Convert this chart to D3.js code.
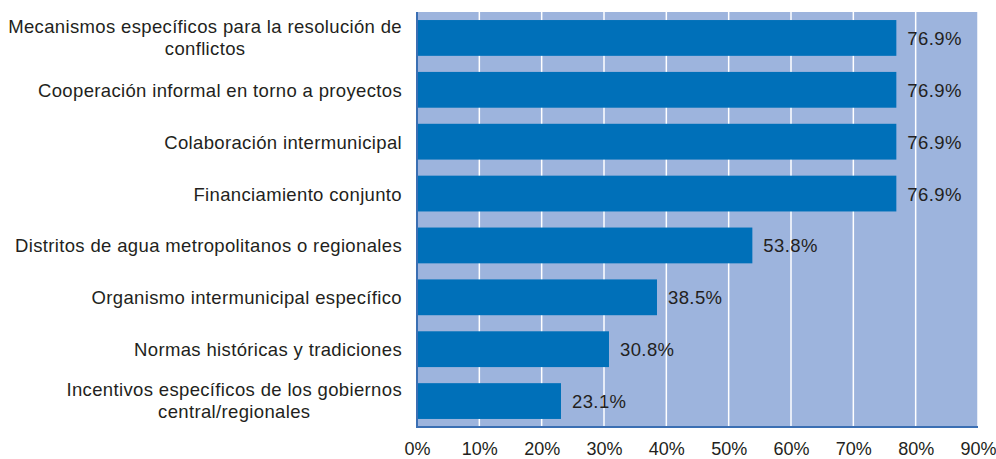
<!DOCTYPE html>
<html><head><meta charset="utf-8">
<script src="https://cdn.jsdelivr.net/npm/d3@7"></script>
<style>body{margin:0;background:#fff}svg{display:block}text{font-family:"Liberation Sans",Arial,sans-serif}</style>
</head><body><svg id="c" width="996" height="459"></svg>
<script>
const categories = [
  ["Mecanismos específicos para la resolución de","conflictos"],
  ["Cooperación informal en torno a proyectos"],
  ["Colaboración intermunicipal"],
  ["Financiamiento conjunto"],
  ["Distritos de agua metropolitanos o regionales"],
  ["Organismo intermunicipal específico"],
  ["Normas históricas y tradiciones"],
  ["Incentivos específicos de los gobiernos","central/regionales"]
];
const values = [76.9, 76.9, 76.9, 76.9, 53.8, 38.5, 30.8, 23.1];
const ticks = [0,10,20,30,40,50,60,70,80,90];

const svg = d3.select("#c");
const L = 417, R = 978, T = 12, B = 427;
const FS = 18.5;
const x = d3.scaleLinear().domain([0,90]).range([L,R]);
const y = d3.scaleBand().domain(d3.range(categories.length)).range([T,B]).paddingInner(0.31).paddingOuter(0.155);

svg.append("rect").attr("x",L).attr("y",T).attr("width",R-L).attr("height",B-T).attr("fill","#9db4dd");
svg.append("g").selectAll("line").data(ticks.slice(1)).join("line")
  .attr("x1",d=>x(d)).attr("x2",d=>x(d)).attr("y1",T).attr("y2",B)
  .attr("stroke","#fff").attr("stroke-width",1.5);

svg.append("g").selectAll("rect").data(values).join("rect")
  .attr("x",x(0)).attr("y",(d,i)=>y(i)).attr("width",d=>x(d)-x(0)).attr("height",y.bandwidth())
  .attr("fill","#0070b9");

svg.append("g").selectAll("text").data(values).join("text")
  .attr("x",d=>x(d)+11).attr("y",(d,i)=>y(i)+y.bandwidth()/2+7)
  .attr("font-size",FS).attr("letter-spacing","0.4px").attr("fill","#231f20").text(d=>d.toFixed(1)+"%");

// axes lines
svg.append("line").attr("x1",L).attr("x2",L).attr("y1",T).attr("y2",B+1).attr("stroke","#3b6fb3").attr("stroke-width",2);
svg.append("line").attr("x1",L-1).attr("x2",R).attr("y1",B).attr("y2",B).attr("stroke","#3b6fb3").attr("stroke-width",2);

const xa = d3.axisBottom(x).tickValues(ticks).tickFormat(d=>d+"%").tickSize(0).tickPadding(0);
const gx = svg.append("g").attr("transform",`translate(0,${B})`).call(xa);
gx.select(".domain").remove();
gx.selectAll("text").attr("font-size",18).attr("fill","#231f20").attr("dy",null).attr("y",27.5)
  .style("font-family",'"Liberation Sans",Arial,sans-serif');

// category labels
const gl = svg.append("g");
categories.forEach((lines,i)=>{
  const cy = y(i)+y.bandwidth()/2;
  const n = lines.length, lh = 22;
  const t = gl.append("text").attr("font-size",FS).attr("fill","#231f20").attr("letter-spacing","0.35px");
  lines.forEach((s,k)=>{
    t.append("tspan").attr("y",cy+(k-(n-1)/2)*lh + (n>1?6:7)).text(s);
  });
  const ws = [];
  t.selectAll("tspan").each(function(){ws.push(this.getComputedTextLength());});
  const maxw = d3.max(ws);
  t.selectAll("tspan").attr("x",(d,k)=>402 - maxw/2 - ws[k]/2);
});
</script></body></html>
